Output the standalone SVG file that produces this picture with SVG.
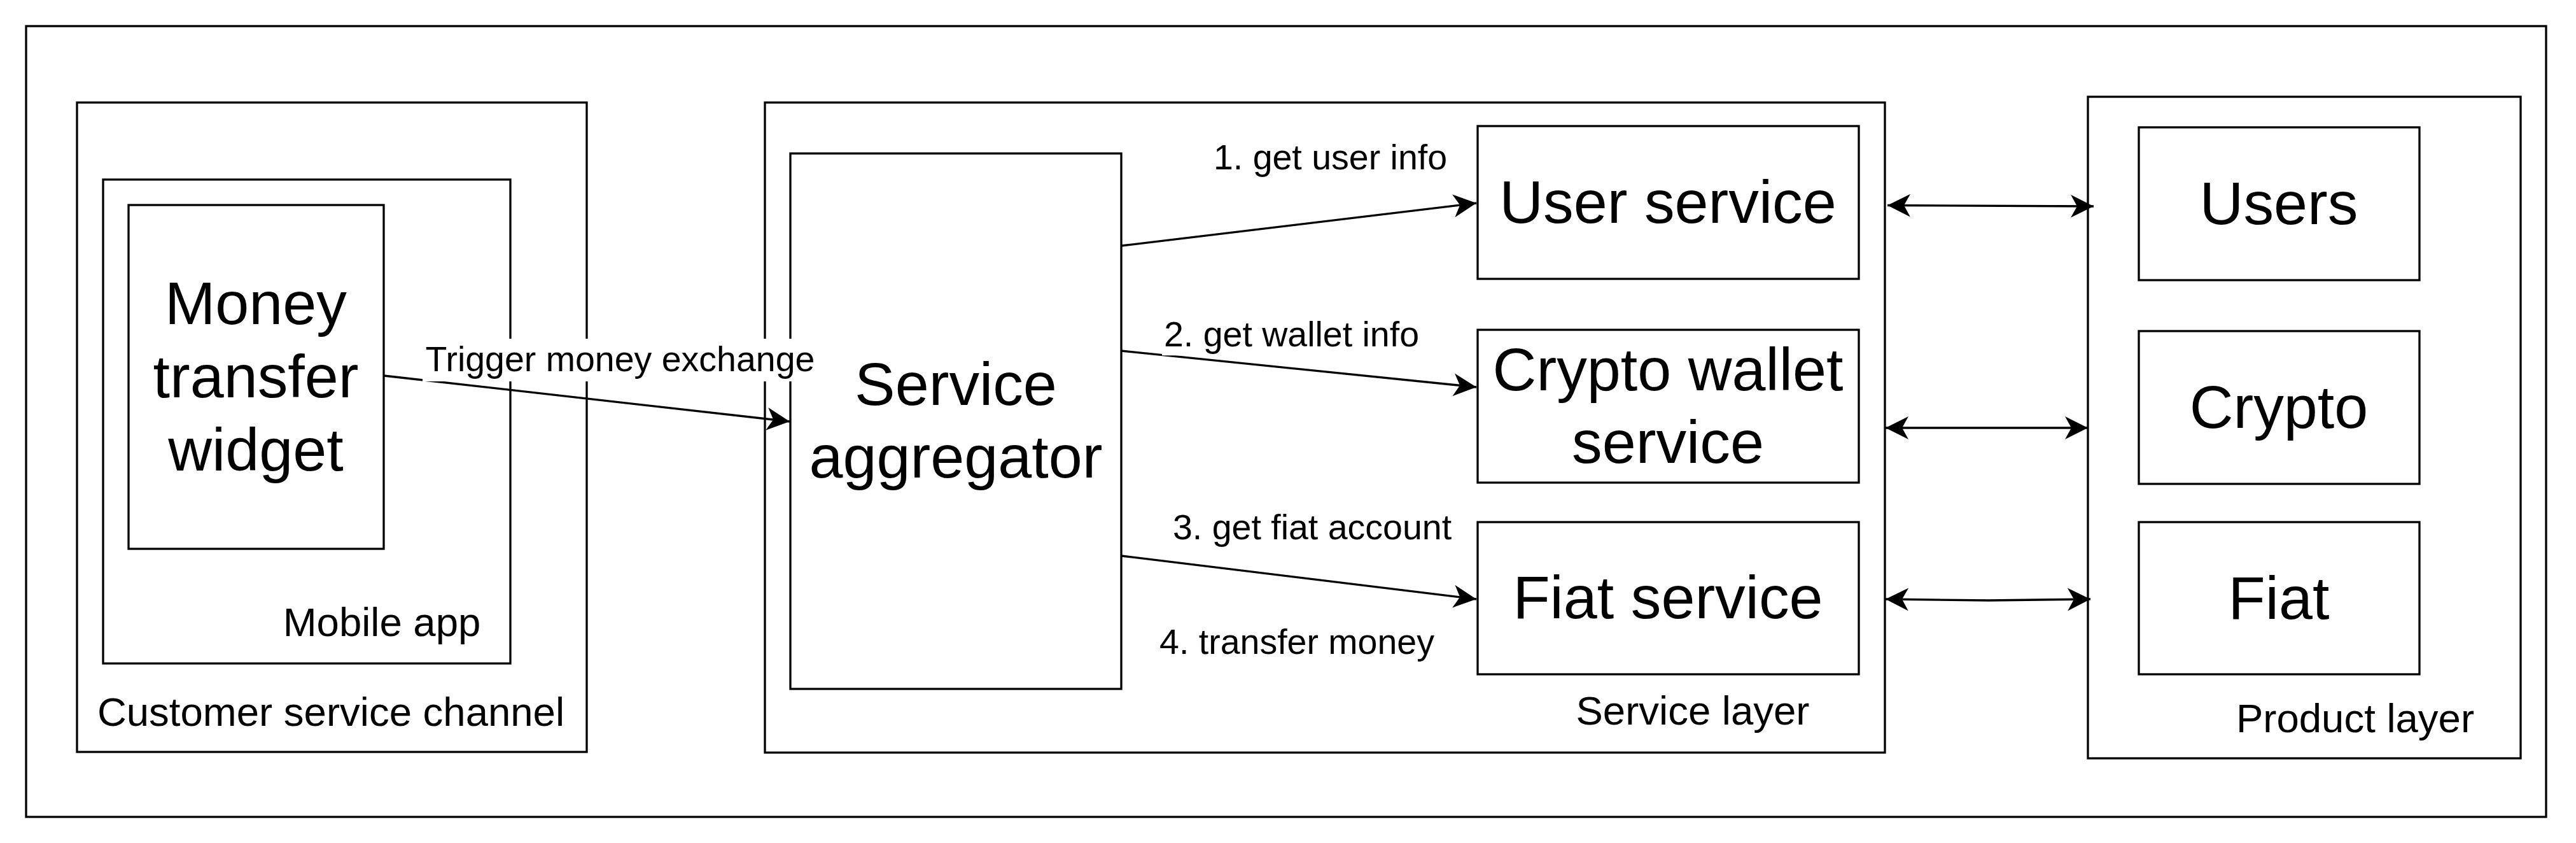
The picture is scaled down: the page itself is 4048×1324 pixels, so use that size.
<svg xmlns="http://www.w3.org/2000/svg" width="4048" height="1324" viewBox="0 0 4048 1324">
  <style>
    .box { fill: #ffffff; stroke: #000000; stroke-width: 3.3; }
    .frame { fill: none; stroke: #000000; stroke-width: 3.3; }
    .big { font-family: "Liberation Sans", Arial, Helvetica, sans-serif; font-size: 95.3px; fill: #000000; text-anchor: middle; }
    .mid { font-family: "Liberation Sans", Arial, Helvetica, sans-serif; font-size: 63.5px; fill: #000000; text-anchor: middle; }
    .lbl { font-family: "Liberation Sans", Arial, Helvetica, sans-serif; font-size: 55.5px; fill: #000000; text-anchor: middle; }
    .edge { fill: none; stroke: #000000; stroke-width: 3.3; }
    .one { marker-end: url(#arr); }
    .two { marker-start: url(#arr); marker-end: url(#arr); }
    .lblbg { fill: #ffffff; stroke: none; }
  </style>
  <defs>
    <marker id="arr" markerUnits="userSpaceOnUse" orient="auto-start-reverse" markerWidth="40" markerHeight="40" viewBox="0 0 40 40" refX="36" refY="18">
      <path d="M36,18 L0,0 L10,18 L0,36 Z" fill="#000000" stroke="none"/>
    </marker>
  </defs>
  <rect width="4048" height="1324" fill="#ffffff"/>

  <g id="outer-frame">
    <rect class="frame" x="41" y="41" width="3960" height="1242"/>
  </g>

  <g id="customer-service-channel">
    <rect class="box" x="121" y="161" width="801" height="1020"/>
    <text class="mid" x="520" y="1140">Customer service channel</text>
  </g>
  <g id="mobile-app">
    <rect class="box" x="162" y="282" width="640" height="760"/>
    <text class="mid" x="600" y="999">Mobile app</text>
  </g>
  <g id="money-transfer-widget">
    <rect class="box" x="202" y="322" width="401" height="540"/>
    <text class="big" x="402" y="509">Money</text>
    <text class="big" x="402" y="624">transfer</text>
    <text class="big" x="402" y="739">widget</text>
  </g>

  <g id="service-layer">
    <rect class="box" x="1202" y="161" width="1760" height="1021"/>
    <text class="mid" x="2660" y="1138">Service layer</text>
  </g>
  <g id="service-aggregator">
    <rect class="box" x="1242" y="241" width="520" height="841"/>
    <text class="big" x="1502" y="636">Service</text>
    <text class="big" x="1502" y="750">aggregator</text>
  </g>
  <g id="user-service">
    <rect class="box" x="2322" y="198" width="599" height="240"/>
    <text class="big" x="2621" y="350">User service</text>
  </g>
  <g id="crypto-wallet-service">
    <rect class="box" x="2322" y="518" width="599" height="240"/>
    <text class="big" x="2621" y="613">Crypto wallet</text>
    <text class="big" x="2621" y="727">service</text>
  </g>
  <g id="fiat-service">
    <rect class="box" x="2322" y="820" width="599" height="239"/>
    <text class="big" x="2621" y="971">Fiat service</text>
  </g>

  <g id="product-layer">
    <rect class="box" x="3281" y="152" width="680" height="1039"/>
    <text class="mid" x="3701" y="1150">Product layer</text>
  </g>
  <g id="users">
    <rect class="box" x="3361" y="200" width="441" height="240"/>
    <text class="big" x="3581" y="352">Users</text>
  </g>
  <g id="crypto">
    <rect class="box" x="3361" y="520" width="441" height="240"/>
    <text class="big" x="3581" y="672">Crypto</text>
  </g>
  <g id="fiat">
    <rect class="box" x="3361" y="820" width="441" height="239"/>
    <text class="big" x="3581" y="972">Fiat</text>
  </g>

  <g id="connectors">
    <path class="edge one" d="M603,590 L1241,662"/>
    <path class="edge one" d="M1762,386 L2320,319"/>
    <path class="edge one" d="M1762,551 L2320,608"/>
    <path class="edge one" d="M1762,873 L2320,941"/>
    <path class="edge two" d="M2966,322.5 L3290,324"/>
    <path class="edge two" d="M2963,672 L3281,672"/>
    <path class="edge two" d="M2963,941 L3125,943 L3285,941"/>

    <g id="connector-labels">
      <rect class="lblbg" x="664" y="532" width="621" height="67"/>
      <text class="lbl" x="974.5" y="583">Trigger money exchange</text>
      <text class="lbl" x="2090.5" y="266">1. get user info</text>
      <rect class="lblbg" x="1826" y="492" width="407" height="66.3"/>
      <text class="lbl" x="2029.5" y="544">2. get wallet info</text>
      <text class="lbl" x="2062" y="847">3. get fiat account</text>
      <text class="lbl" x="2038" y="1027">4. transfer money</text>
    </g>
  </g>
</svg>
